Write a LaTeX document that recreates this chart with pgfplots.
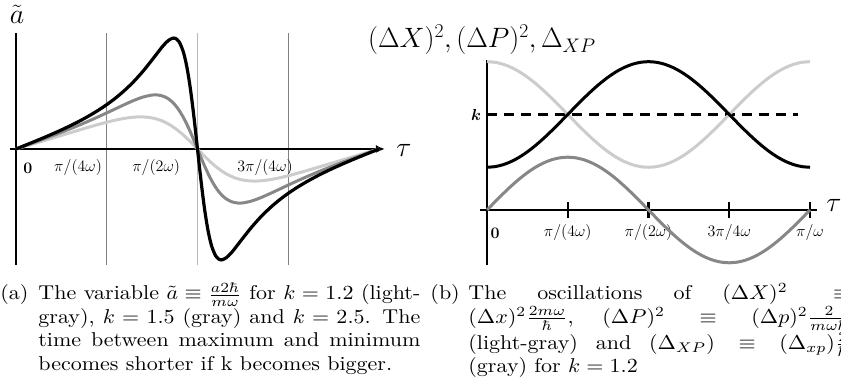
\RequirePackage{fix-cm}
\documentclass[border=0pt]{standalone}
\usepackage{amsmath}
\usepackage{pgfplots}
\pgfplotsset{compat=1.18}
\usepackage{pgfplotstable}
\usetikzlibrary{arrows.meta}

\definecolor{lgray}{gray}{0.80}
\definecolor{mgray}{gray}{0.53}
\newcommand{\tickfont}{\fontsize{16}{16}\selectfont}
\newcommand{\labfont}{\fontsize{28}{30}\selectfont}

% (Delta X)^2, (Delta P)^2, Delta_XP for k = 1.2, tau in units of pi/omega
\pgfplotstableread{
t      X       P       XP
0      0.5367  1.8633  0
0.025  0.5449  1.8551  0.1037
0.05   0.5691  1.8309  0.2050
0.075  0.6090  1.7910  0.3011
0.1    0.6634  1.7366  0.3899
0.125  0.7310  1.6690  0.4690
0.15   0.8101  1.5899  0.5366
0.175  0.8989  1.5011  0.5910
0.2    0.9950  1.4050  0.6309
0.225  1.0963  1.3037  0.6551
0.25   1.2000  1.2000  0.6633
0.275  1.3037  1.0963  0.6551
0.3    1.4050  0.9950  0.6309
0.325  1.5011  0.8989  0.5910
0.35   1.5899  0.8101  0.5366
0.375  1.6690  0.7310  0.4690
0.4    1.7366  0.6634  0.3899
0.425  1.7910  0.6090  0.3011
0.45   1.8309  0.5691  0.2050
0.475  1.8551  0.5449  0.1037
0.5    1.8633  0.5367  0
0.525  1.8551  0.5449  -0.1037
0.55   1.8309  0.5691  -0.2050
0.575  1.7910  0.6090  -0.3011
0.6    1.7366  0.6634  -0.3899
0.625  1.6690  0.7310  -0.4690
0.65   1.5899  0.8101  -0.5366
0.675  1.5011  0.8989  -0.5910
0.7    1.4050  0.9950  -0.6309
0.725  1.3037  1.0963  -0.6551
0.75   1.2000  1.2000  -0.6633
0.775  1.0963  1.3037  -0.6551
0.8    0.9950  1.4050  -0.6309
0.825  0.8989  1.5011  -0.5910
0.85   0.8101  1.5899  -0.5366
0.875  0.7310  1.6690  -0.4690
0.9    0.6634  1.7366  -0.3899
0.925  0.6090  1.7910  -0.3011
0.95   0.5691  1.8309  -0.2050
0.975  0.5449  1.8551  -0.1037
1      0.5367  1.8633  0
}\osz

\begin{document}
\begin{tikzpicture}[x=1pt,y=1pt,
    capt/.style={font=\fontsize{10}{11.75}\selectfont, inner sep=0pt, anchor=base west},
    capscale/.style={xscale=2.2, yscale=2.0, every node/.append style={transform shape}}]
\useasboundingbox (0,0) rectangle (841,390);

% ---- left: a tilde ----
\begin{axis}[
    at={(10pt,125pt)}, anchor=south west,
    x=363pt, y=48.4pt,
    xmin=-0.0165, xmax=1.0165,
    ymin=-2.397, ymax=2.397,
    axis x line=middle, axis y line=middle,
    axis line style={line width=2.4pt},
    x axis line style={-{Latex[length=9pt,width=8pt]}},
    y axis line style={-},
    xtick={0.25,0.75}, xticklabels={},
    xmajorgrids,
    major grid style={black!50, line width=0.6pt},
    extra x ticks={0.033,0.171,0.386,0.686},
    extra x tick labels={$\mathbf{0}$,$\pi/(4\omega)$,$\pi/(2\omega)$,$3\pi/(4\omega)$},
    extra x tick style={grid=none},
    ytick=\empty,
    major tick length=0pt,
    xticklabel style={font=\tickfont, anchor=center, yshift=-19pt},
    clip=false,
]
\addplot[gray!55, line width=1.2pt] coordinates {(0.5,-2.397) (0.5,2.397)};
\addplot[lgray, line width=3pt, smooth] coordinates {
(0,0) (0.025,0.0559) (0.05,0.1120) (0.075,0.1682) (0.1,0.2245) (0.125,0.2810)
(0.15,0.3375) (0.175,0.3937) (0.2,0.4491) (0.225,0.5025) (0.25,0.5528)
(0.275,0.5977) (0.3,0.6341) (0.325,0.6576) (0.35,0.6624) (0.375,0.6417)
(0.4,0.5878) (0.425,0.4945) (0.45,0.3602) (0.475,0.1904) (0.5,0)
(0.525,-0.1904) (0.55,-0.3602) (0.575,-0.4945) (0.6,-0.5878) (0.625,-0.6417)
(0.65,-0.6624) (0.675,-0.6576) (0.7,-0.6341) (0.725,-0.5977) (0.75,-0.5528)
(0.775,-0.5025) (0.8,-0.4491) (0.825,-0.3937) (0.85,-0.3375) (0.875,-0.2810)
(0.9,-0.2245) (0.925,-0.1682) (0.95,-0.1120) (0.975,-0.0559) (1,0)
};
\addplot[mgray, line width=3pt, smooth] coordinates {
(0,0) (0.025,0.0671) (0.05,0.1348) (0.075,0.2034) (0.1,0.2733) (0.125,0.3451)
(0.15,0.4193) (0.175,0.4962) (0.2,0.5762) (0.225,0.6593) (0.25,0.7454)
(0.275,0.8334) (0.3,0.9211) (0.325,1.0038) (0.35,1.0732) (0.375,1.1146)
(0.39,1.1161) (0.4,1.1037) (0.41,1.0774) (0.42,1.0356) (0.43,0.9748)
(0.44,0.8940) (0.45,0.7912) (0.46,0.6668) (0.47,0.5216) (0.48,0.3585)
(0.49,0.1828) (0.5,0)
(0.51,-0.1828) (0.52,-0.3585) (0.53,-0.5216) (0.54,-0.6668) (0.55,-0.7912)
(0.56,-0.8940) (0.57,-0.9748) (0.58,-1.0356) (0.59,-1.0774) (0.6,-1.1037)
(0.61,-1.1161) (0.625,-1.1146) (0.65,-1.0732) (0.675,-1.0038) (0.7,-0.9211)
(0.725,-0.8334) (0.75,-0.7454) (0.775,-0.6593) (0.8,-0.5762) (0.825,-0.4962)
(0.85,-0.4193) (0.875,-0.3451) (0.9,-0.2733) (0.925,-0.2034) (0.95,-0.1348)
(0.975,-0.0671) (1,0)
};
\addplot[black, line width=3.2pt, smooth] coordinates {
(0,0) (0.025,0.0752) (0.05,0.1513) (0.075,0.2290) (0.1,0.3093) (0.125,0.3932)
(0.15,0.4819) (0.175,0.5767) (0.2,0.6793) (0.225,0.7918) (0.25,0.9165)
(0.275,1.0567) (0.3,1.2161) (0.325,1.3985) (0.35,1.6073) (0.375,1.8416)
(0.4,2.0840) (0.41,2.1709) (0.42,2.2426) (0.43,2.2848) (0.435,2.2918)
(0.44,2.2826) (0.45,2.2073) (0.46,2.0297) (0.465,1.8929) (0.47,1.7227)
(0.475,1.5120) (0.48,1.2661) (0.485,0.9848) (0.49,0.6745) (0.495,0.3429) (0.5,0)
(0.505,-0.3429) (0.51,-0.6745) (0.515,-0.9848) (0.52,-1.2661) (0.525,-1.5120)
(0.53,-1.7227) (0.535,-1.8929) (0.54,-2.0297) (0.55,-2.2073) (0.56,-2.2826)
(0.565,-2.2918) (0.57,-2.2848) (0.58,-2.2426) (0.59,-2.1709) (0.6,-2.0840)
(0.625,-1.8416) (0.65,-1.6073) (0.675,-1.3985) (0.7,-1.2161) (0.725,-1.0567)
(0.75,-0.9165) (0.775,-0.7918) (0.8,-0.6793) (0.825,-0.5767) (0.85,-0.4819)
(0.875,-0.3932) (0.9,-0.3093) (0.925,-0.2290) (0.95,-0.1513) (0.975,-0.0752) (1,0)
};
\end{axis}
\node[font=\labfont] at (17,376) {$\tilde a$};
\node[font=\labfont] at (404,240) {$\tau$};

% ---- right: variances ----
\begin{axis}[
    at={(480pt,125pt)}, anchor=south west,
    x=323pt, y=79.6pt,
    xmin=-0.0217, xmax=1.022,
    ymin=-0.691, ymax=1.884,
    axis x line=middle, axis y line=middle,
    axis line style={line width=2.4pt},
    x axis line style={-},
    y axis line style={-},
    xtick={0.25,0.5,0.75,1},
    xticklabels={$\pi/(4\omega)$,$\pi/(2\omega)$,$3\pi/4\omega$,$\pi/\omega$},
    extra x ticks={0.025}, extra x tick labels={$\mathbf{0}$},
    extra x tick style={major tick length=0pt, tick label style={yshift=-8pt}},
    major tick length=16pt,
    xtick style={black, line width=2.4pt},
    ytick={1.2}, yticklabels={$\boldsymbol{k}$},
    ytick style={draw=none},
    xticklabel style={font=\tickfont, anchor=center, yshift=-15pt},
    yticklabel style={font=\tickfont, anchor=center, xshift=-3pt},
    clip=false,
]
\addplot[black, line width=2.6pt, dash pattern=on 10pt off 7pt] coordinates {(0,1.2) (0.963,1.2)};
\addplot[lgray, line width=3pt, smooth] table[x=t, y=P] {\osz};
\addplot[black, line width=3pt, smooth] table[x=t, y=X] {\osz};
\addplot[mgray, line width=3pt, smooth] table[x=t, y=XP] {\osz};
\end{axis}
\node[font=\labfont, anchor=base west, inner sep=0pt] at (368,342) {$(\Delta X)^2,(\Delta P)^2,\Delta_{XP}$};
\node[font=\labfont] at (834,185) {$\tau$};

% ---- captions (cmr10 design, scaled like the reference) ----
\begin{scope}[shift={(0,90)}, capscale]
\node[capt] at (0,0) {(a)};
\node[capt, text width=173.6pt, align=justify] at (17.27,0)
{The variable $\tilde a\equiv\frac{a2\hbar}{m\omega}$ for $k=1.2$ (light-\linebreak gray), $k=1.5$ (gray) and $k=2.5$. The\linebreak time between maximum and minimum\linebreak becomes shorter if k becomes bigger.};
\end{scope}
\begin{scope}[shift={(430,90)}, capscale]
\node[capt] at (0,0) {(b)};
\node[capt, text width=173.6pt, align=justify] at (17.27,0)
{The oscillations of $(\Delta X)^2\equiv$\linebreak $(\Delta x)^2\frac{2m\omega}{\hbar}$, $(\Delta P)^2\equiv(\Delta p)^2\frac{2}{m\omega\hbar}$\linebreak (light-gray) and $(\Delta_{XP})\equiv(\Delta_{xp})\frac{2}{\hbar}$\linebreak (gray) for $k=1.2$};
\end{scope}
\end{tikzpicture}
\end{document}
